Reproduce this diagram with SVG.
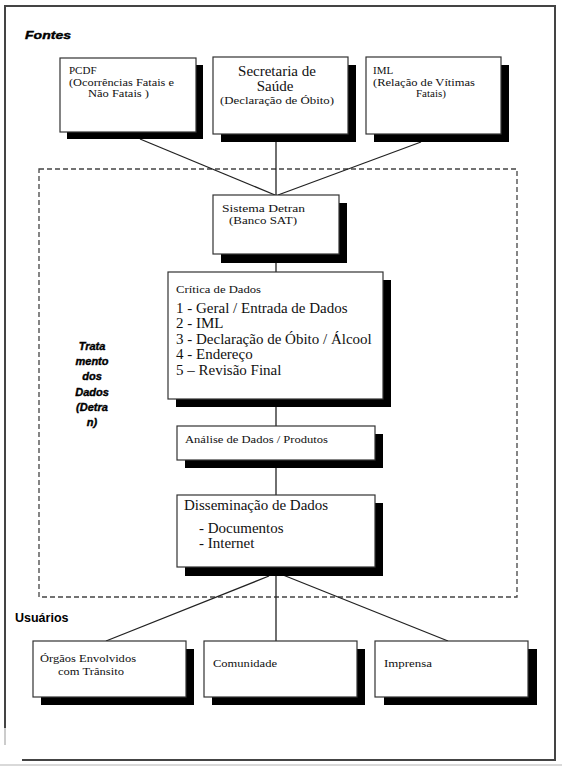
<svg xmlns="http://www.w3.org/2000/svg" width="562" height="766" viewBox="0 0 562 766">
<style>
.box{fill:#fff;stroke:#333;stroke-width:1.2}
.sh{fill:#000}
text.t{font-family:'Liberation Serif','Times New Roman',serif;fill:#111}
text.s{font-size:11px}
text.l{font-size:15px}
text.lbl{font-family:'Liberation Sans',Arial,sans-serif;font-weight:bold;fill:#000}
.con line{stroke:#222;stroke-width:1.3}
</style>
<rect width="562" height="766" fill="#fff"/>
<g id="frame" fill="none">
<path d="M5,728 V6 H555 V760 H22" stroke="#444" stroke-width="2"/>
<line x1="5" y1="728" x2="5" y2="745" stroke="#ccc" stroke-width="2"/>
<line x1="0" y1="765" x2="562" y2="765" stroke="#ccc" stroke-width="1.5"/>
</g>
<rect id="tratamento-area" x="39" y="169" width="478" height="428" fill="none" stroke="#444" stroke-width="1.3" stroke-dasharray="5 3"/>
<text class="lbl" x="25" y="39" font-size="11" font-style="italic" stroke="#000" stroke-width="0.4" textLength="46" lengthAdjust="spacingAndGlyphs">Fontes</text>
<text class="lbl" x="15" y="622" font-size="12.5">Usuários</text>
<g id="label-tratamento" font-size="11" font-style="italic" text-anchor="middle" stroke="#000" stroke-width="0.4">
<text class="lbl" x="92" y="350">Trata</text>
<text class="lbl" x="92" y="365">mento</text>
<text class="lbl" x="92" y="380">dos</text>
<text class="lbl" x="92" y="396">Dados</text>
<text class="lbl" x="92" y="411">(Detra</text>
<text class="lbl" x="92" y="426">n)</text>
</g>
<g class="con" id="connectors">
<line x1="140" y1="139" x2="275" y2="195"/>
<line x1="276" y1="142" x2="276" y2="195"/>
<line x1="421" y1="142" x2="278" y2="195"/>
<line x1="276" y1="262" x2="276" y2="272"/>
<line x1="276" y1="407" x2="276" y2="426"/>
<line x1="276" y1="468" x2="276" y2="495"/>
<line x1="269" y1="576" x2="106" y2="641"/>
<line x1="276" y1="576" x2="276" y2="641"/>
<line x1="283" y1="575" x2="448" y2="641"/>
</g>
<g id="pcdf">
<rect class="sh" x="67" y="65" width="136" height="74"/>
<rect class="box" x="60" y="58" width="136" height="74"/>
<text class="t s" x="69" y="74">PCDF</text>
<text class="t s" x="69" y="86" textLength="105" lengthAdjust="spacingAndGlyphs">(Ocorrências Fatais e</text>
<text class="t s" x="88" y="97" textLength="61" lengthAdjust="spacingAndGlyphs">Não Fatais )</text>
</g>
<g id="secretaria">
<rect class="sh" x="221" y="65" width="135" height="77"/>
<rect class="box" x="213" y="57" width="135" height="77"/>
<text class="t l" x="277" y="76" text-anchor="middle">Secretaria de</text>
<text class="t l" x="275" y="91" text-anchor="middle">Saúde</text>
<text class="t s" x="277" y="104" text-anchor="middle" textLength="114" lengthAdjust="spacingAndGlyphs">(Declaração de Óbito)</text>
</g>
<g id="iml">
<rect class="sh" x="374" y="65" width="135" height="77"/>
<rect class="box" x="366" y="57" width="135" height="77"/>
<text class="t s" x="373" y="74">IML</text>
<text class="t s" x="373" y="86" textLength="102" lengthAdjust="spacingAndGlyphs">(Relação de Vítimas</text>
<text class="t s" x="416" y="97">Fatais)</text>
</g>
<g id="sistema">
<rect class="sh" x="221" y="203" width="126" height="60"/>
<rect class="box" x="213" y="195" width="126" height="59"/>
<text class="t s" x="222" y="212" textLength="83" lengthAdjust="spacingAndGlyphs">Sistema  Detran</text>
<text class="t s" x="229" y="224" textLength="68" lengthAdjust="spacingAndGlyphs">(Banco SAT)</text>
</g>
<g id="critica">
<rect class="sh" x="176" y="280" width="215" height="127"/>
<rect class="box" x="168" y="272" width="215" height="127"/>
<text class="t s" x="176" y="293" textLength="85" lengthAdjust="spacingAndGlyphs">Crítica de Dados</text>
<text class="t l" x="176" y="313">1 - Geral / Entrada de Dados</text>
<text class="t l" x="176" y="328">2 - IML</text>
<text class="t l" x="176" y="344">3 - Declaração de Óbito / Álcool</text>
<text class="t l" x="176" y="359">4 - Endereço</text>
<text class="t l" x="176" y="375">5 – Revisão Final</text>
</g>
<g id="analise">
<rect class="sh" x="185" y="434" width="198" height="34"/>
<rect class="box" x="177" y="426" width="198" height="34"/>
<text class="t s" x="185" y="443" textLength="143" lengthAdjust="spacingAndGlyphs">Análise de Dados / Produtos</text>
</g>
<g id="disseminacao">
<rect class="sh" x="185" y="503" width="198" height="73"/>
<rect class="box" x="177" y="495" width="198" height="72"/>
<text class="t l" x="184" y="510">Disseminação de Dados</text>
<text class="t l" x="199" y="533">- Documentos</text>
<text class="t l" x="199" y="548">- Internet</text>
</g>
<g id="orgaos">
<rect class="sh" x="41" y="649" width="153" height="56"/>
<rect class="box" x="33" y="641" width="153" height="56"/>
<text class="t s" x="40" y="662" textLength="96" lengthAdjust="spacingAndGlyphs">Órgãos Envolvidos</text>
<text class="t s" x="58" y="675" textLength="66" lengthAdjust="spacingAndGlyphs">com Trânsito</text>
</g>
<g id="comunidade">
<rect class="sh" x="212" y="649" width="153" height="56"/>
<rect class="box" x="204" y="641" width="153" height="56"/>
<text class="t s" x="213" y="667" textLength="64" lengthAdjust="spacingAndGlyphs">Comunidade</text>
</g>
<g id="imprensa">
<rect class="sh" x="384" y="649" width="153" height="56"/>
<rect class="box" x="375" y="641" width="153" height="56"/>
<text class="t s" x="384" y="667" textLength="48" lengthAdjust="spacingAndGlyphs">Imprensa</text>
</g>
</svg>
